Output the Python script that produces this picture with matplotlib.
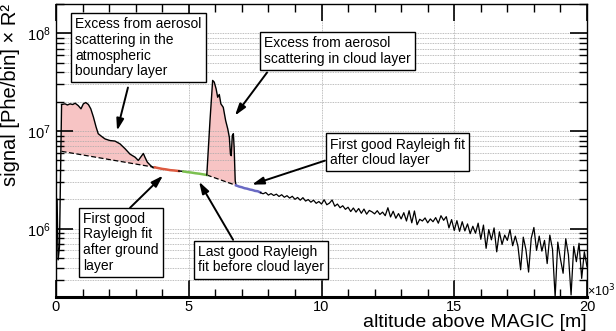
import numpy as np
import matplotlib
matplotlib.use("Agg")
import matplotlib.pyplot as plt
from matplotlib.ticker import LogLocator, MultipleLocator, NullFormatter

plt.rcParams['font.family'] = ['Liberation Sans', 'DejaVu Sans']

# ---- data (altitude in 10^3 m, signal in Phe/bin * R^2) ----
# near-ground bins + boundary-layer excess
bl_x = [0.21, 0.34, 0.43, 0.53, 0.63, 0.72, 0.84, 0.94, 1.03, 1.12, 1.22, 1.31,
        1.41, 1.51, 1.59, 1.72, 1.85, 2.03, 2.22, 2.41, 2.60, 2.79, 2.98, 3.10,
        3.23, 3.29, 3.35, 3.44, 3.54, 3.66, 3.73]
bl_y = [1.87e7, 1.90e7, 1.85e7, 1.90e7, 1.87e7, 1.93e7, 1.82e7, 1.69e7, 1.90e7,
        1.96e7, 1.87e7, 1.69e7, 1.39e7, 1.10e7, 9.4e6, 8.8e6, 8.3e6, 8.0e6,
        7.9e6, 7.4e6, 6.6e6, 5.8e6, 5.4e6, 5.0e6, 5.6e6, 5.9e6, 5.4e6, 4.8e6,
        4.5e6, 4.2e6, 4.25e6]
ground_x = [0.04, 0.08, 0.13, 0.21]
ground_y = [2.0e6, 4.8e5, 6.5e5, 1.87e7]

# first good Rayleigh fit after ground layer (red)
red_x = [3.73, 3.85, 4.00, 4.15, 4.30, 4.45, 4.62]
red_y = [4.25e6, 4.18e6, 4.10e6, 4.05e6, 3.98e6, 3.95e6, 3.90e6]
gap_x = [4.62, 4.72, 4.80]
gap_y = [3.90e6, 3.88e6, 3.86e6]
# last good Rayleigh fit before cloud layer (green)
green_x = [4.80, 4.95, 5.10, 5.25, 5.40, 5.55, 5.68]
green_y = [3.86e6, 3.80e6, 3.76e6, 3.70e6, 3.66e6, 3.60e6, 3.55e6]

# cloud layer excess
cl_x = [5.68, 5.80, 5.90, 5.96, 6.03, 6.09, 6.15, 6.21, 6.30, 6.39, 6.47, 6.53,
        6.57, 6.60, 6.64, 6.68, 6.71, 6.75, 6.78]
cl_y = [3.55e6, 1.28e7, 3.30e7, 3.17e7, 2.71e7, 2.22e7, 2.37e7, 1.90e7, 1.75e7,
        1.28e7, 1.05e7, 8.6e6, 5.8e6, 5.6e6, 9.0e6, 9.4e6, 6.8e6, 3.1e6, 2.78e6]

# first good Rayleigh fit after cloud layer (blue)
blue_x = [6.78, 6.90, 7.00, 7.10, 7.20, 7.30, 7.40, 7.50, 7.60, 7.70]
blue_y = [2.78e6, 2.70e6, 2.66e6, 2.60e6, 2.57e6, 2.52e6, 2.49e6, 2.44e6, 2.42e6, 2.35e6]

# Rayleigh (molecular) reference below the excesses (dashed)
ray1_x = [0.21, 3.73]
ray1_y = [6.2e6, 4.25e6]
ray2_x = [5.68, 6.78]
ray2_y = [3.55e6, 2.78e6]

# noisy tail above the cloud (units of 1e5)
tail_x = [7.7 + 0.1 * i for i in range(124)]
tail_v = [23.4, 22.8, 23.5, 22.1, 22.9, 21.9, 22.6, 21.4, 22.3, 21.0,
          21.8, 20.6, 21.5, 20.0, 20.9, 19.6, 20.8, 19.2, 19.9, 18.7,
          19.6, 18.2, 19.0, 17.9, 19.8, 17.6, 18.3, 19.7, 17.0, 17.9,
          16.4, 17.2, 15.8, 16.6, 15.0, 16.3, 14.8, 16.1, 14.4, 15.9,
          14.1, 15.4, 14.9, 14.2, 15.3, 14.0, 14.8, 13.6, 16.4, 13.2,
          15.1, 12.8, 14.3, 12.6, 14.6, 12.0, 15.3, 11.5, 15.2, 11.0,
          12.5, 12.0, 12.9, 11.5, 12.6, 11.8, 13.0, 11.4, 13.6, 12.2,
          13.3, 10.2, 12.4, 9.6, 12.1, 9.4, 11.8, 9.5, 11.2, 8.9,
          10.6, 9.0, 11.4, 7.8, 10.9, 6.3, 9.8, 7.7, 10.2, 5.8,
          9.3, 6.9, 8.6, 7.6, 9.8, 6.7, 8.4, 6.6, 3.8, 8.2,
          6.1, 3.6, 8.0, 10.3, 6.0, 8.4, 5.9, 7.6, 4.4, 8.6,
          6.2, 2.0, 7.3, 4.9, 3.5, 7.9, 5.4, 2.1, 6.6, 4.6,
          7.1, 3.1, 5.8, 4.1]
tail_y = [v * 1e5 for v in tail_v]

xticks = [0, 5, 10, 15, 20]

# ---- figure ----
W, H = 616, 331
fig = plt.figure(figsize=(W / 100, H / 100), dpi=100)
ax = fig.add_axes([56 / W, 1 - 297 / H, (587 - 56) / W, (297 - 4) / H])
ax.set_yscale('log')
ax.set_xlim(0, 20)
ax.set_ylim(2e5, 2e8)

pink = '#f7c4c4'
ax.fill(bl_x + ray1_x[::-1], bl_y + ray1_y[::-1], color=pink, lw=0, zorder=1)
ax.fill(cl_x + ray2_x[::-1], cl_y + ray2_y[::-1], color=pink, lw=0, zorder=1)

ax.plot(ground_x, ground_y, color='k', lw=1, zorder=3)
ax.plot(bl_x, bl_y, color='k', lw=1, zorder=3)
ax.plot(red_x, red_y, color='#dd5a40', lw=1.8, zorder=3)
ax.plot(gap_x, gap_y, color='k', lw=1, zorder=3)
ax.plot(green_x, green_y, color='#7cc050', lw=1.8, zorder=3)
ax.plot(cl_x, cl_y, color='k', lw=1, zorder=3)
ax.plot(blue_x, blue_y, color='#6a6ac4', lw=1.8, zorder=3)
ax.plot([blue_x[-1]] + tail_x, [blue_y[-1]] + tail_y, color='k', lw=0.9, zorder=3)
ax.plot(ray1_x, ray1_y, color='k', lw=0.9, ls=(0, (4, 2)), zorder=2)
ax.plot(ray2_x, ray2_y, color='k', lw=0.9, ls=(0, (4, 2)), zorder=2)

# grid
ax.grid(True, which='both', axis='y', color='#a8a8a8', lw=0.6, ls=(0, (1, 1)), zorder=0)
ax.grid(True, which='major', axis='x', color='#a8a8a8', lw=0.6, ls=(0, (1, 1)), zorder=0)

# ticks
ax.set_xticks(xticks)
ax.set_xticklabels([str(t) for t in xticks])
ax.xaxis.set_minor_locator(MultipleLocator(1))
ax.yaxis.set_major_locator(LogLocator(base=10, numticks=10))
ax.yaxis.set_minor_locator(LogLocator(base=10, subs=np.arange(2, 10), numticks=10))
ax.yaxis.set_minor_formatter(NullFormatter())
ax.tick_params(which='both', direction='in', top=True, right=True, labelsize=10.5, colors='k')
ax.tick_params(which='major', length=12, width=1.2)
ax.tick_params(which='minor', length=6, width=1)
ax.tick_params(axis='x', which='major', pad=2)
for s in ax.spines.values():
    s.set_linewidth(1)
ax.spines['bottom'].set_linewidth(2.2)

ax.set_xlabel('altitude above MAGIC [m]', fontsize=14, loc='right', labelpad=0)
ax.set_ylabel('signal [Phe/bin] × R²', fontsize=14.5, loc='top', labelpad=5)
fig.text(587 / W, 1 - 291 / H, '×10$^3$', fontsize=9, va='center', ha='left')

# annotations
box = dict(boxstyle='square,pad=0.3', fc='white', ec='k', lw=1)
fs = 10
ax.text(0.716, 1.46e8, 'Excess from aerosol\nscattering in the\natmospheric\nboundary layer',
        fontsize=fs, va='top', ha='left', bbox=box, zorder=5, linespacing=1.15)
ax.text(7.83, 9.3e7, 'Excess from aerosol\nscattering in cloud layer',
        fontsize=fs, va='top', ha='left', bbox=box, zorder=5, linespacing=1.15)
ax.text(10.32, 8.57e6, 'First good Rayleigh fit\nafter cloud layer',
        fontsize=fs, va='top', ha='left', bbox=box, zorder=5, linespacing=1.15)
ax.text(1.02, 1.49e6, 'First good\nRayleigh fit\nafter ground\nlayer',
        fontsize=fs, va='top', ha='left', bbox=box, zorder=5, linespacing=1.15)
ax.text(5.35, 6.85e5, 'Last good Rayleigh\nfit before cloud layer',
        fontsize=fs, va='top', ha='left', bbox=box, zorder=5, linespacing=1.15)

arrows = [((2.71, 2.79e7), (2.30, 1.01e7)),
          ((7.95, 3.98e7), (6.74, 1.44e7)),
          ((10.13, 4.98e6), (7.38, 2.83e6)),
          ((2.79, 1.64e6), (4.03, 3.5e6)),
          ((6.67, 7.7e5), (5.39, 3.03e6))]
for tail, head in arrows:
    ax.annotate('', xy=head, xytext=tail,
                arrowprops=dict(arrowstyle='-|>,head_length=0.7,head_width=0.22',
                                color='k', lw=1.4, shrinkA=0, shrinkB=0),
                zorder=6)

fig.savefig('out.png', dpi=100)
